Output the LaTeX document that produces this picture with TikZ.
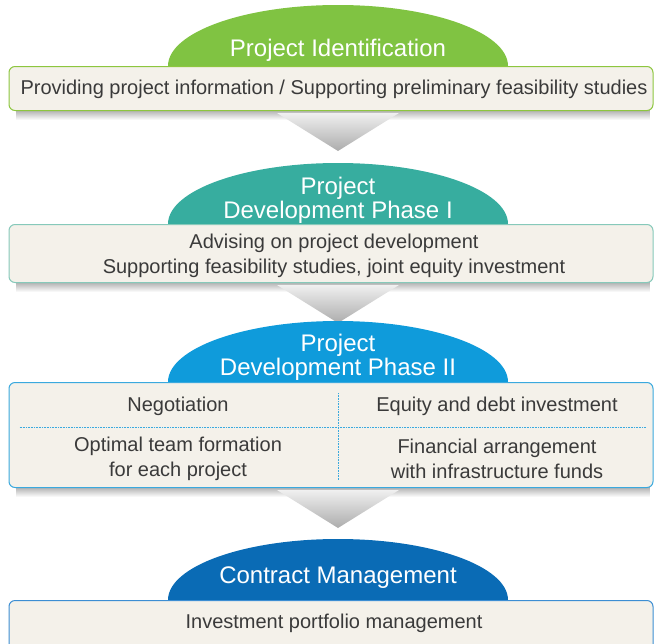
\documentclass[tikz,border=0pt]{standalone}
\usepackage{fontspec}
\setmainfont{Liberation Sans}
\usetikzlibrary{calc,backgrounds}
\definecolor{idgreen}{HTML}{80C342}
\definecolor{idgreenline}{HTML}{8DC63F}
\definecolor{devteal}{HTML}{37AD9F}
\definecolor{devtealline}{HTML}{86C9BA}
\definecolor{devblue}{HTML}{0F9BDB}
\definecolor{devblueline}{HTML}{3AA9DE}
\definecolor{conblue}{HTML}{0A6BB5}
\definecolor{conblueline}{HTML}{3C8ED3}
\definecolor{boxfill}{HTML}{F4F1EA}
\definecolor{txtgray}{HTML}{3A3A3A}
\tikzstyle{title} = [text=white, font={\fontsize{24}{24}\selectfont}, align=center]
\tikzstyle{info} = [rounded corners=6pt, fill=boxfill, line width=1pt, minimum width=644pt, anchor=north]
\tikzstyle{txt} = [text=txtgray, font={\fontsize{20}{25}\selectfont}, align=center]
\tikzstyle{downarrow} = [top color=gray!12, bottom color=gray!65]
\tikzstyle{boxshadow} = [top color=gray!75, bottom color=white]
\tikzstyle{sep} = [devblueline, densely dotted, line width=0.6pt]

\begin{document}
\begin{tikzpicture}[x=1pt,y=-1pt]
    \clip (0,0) rectangle (656,643);
    % domes
    \fill[idgreen] (168,66) arc[start angle=180,end angle=360,x radius=170,y radius=61];
    \fill[devteal] (168,224) arc[start angle=180,end angle=360,x radius=170,y radius=61];
    \fill[devblue] (168,382) arc[start angle=180,end angle=360,x radius=170,y radius=61];
    \fill[conblue] (168,600) arc[start angle=180,end angle=360,x radius=170,y radius=61];
    \node[title](t1) at (338,50){Project Identification};
    \node[title](t2) at (338,200){Project\\Development Phase I};
    \node[title](t3) at (338,357){Project\\Development Phase II};
    \node[title](t4) at (338,578){Contract Management};
    % boxes
    \node[info,draw=idgreenline,minimum height=44pt](b1) at (331,66){};
    \node[info,draw=devtealline,minimum height=58pt](b2) at (331,224){};
    \node[info,draw=devblueline,minimum height=105pt](b3) at (331,382){};
    \node[info,draw=conblueline,minimum height=50pt](b4) at (331,600){};
    \node[txt](s1) at ($(b1)+(3,1)$){Providing project information / Supporting preliminary feasibility studies};
    \node[txt](s2) at ($(b2)+(3,2)$){Advising on project development\\Supporting feasibility studies, joint equity investment};
    \node[txt](s31) at (178,406){Negotiation};
    \node[txt](s32) at (497,406){Equity and debt investment};
    \node[txt](s33) at (178,459){Optimal team formation\\for each project};
    \node[txt](s34) at (497,459){Financial arrangement\\with infrastructure funds};
    \node[txt](s4) at (334,623){Investment portfolio management};
    \draw[sep] ($(b3.west)+(11,-7.5)$) -- ($(b3.east)+(-7,-7.5)$);
    \draw[sep] ($(b3.north)+(7,11)$) -- ($(b3.south)+(7,-8)$);
    % shadows and arrows
    \begin{scope}[on background layer]
      \foreach \b in {b1,b2,b3}{
        \shade[boxshadow] ($(\b.south west)+(8,-3)$) rectangle ($(\b.south east)+(-4,9)$);
        \shade[downarrow] ($(\b.south)+(-54,2)$) -- ($(\b.south)+(68,2)$) -- ($(\b.south)+(7,40)$) -- cycle;
      }
    \end{scope}
\end{tikzpicture}
\end{document}
